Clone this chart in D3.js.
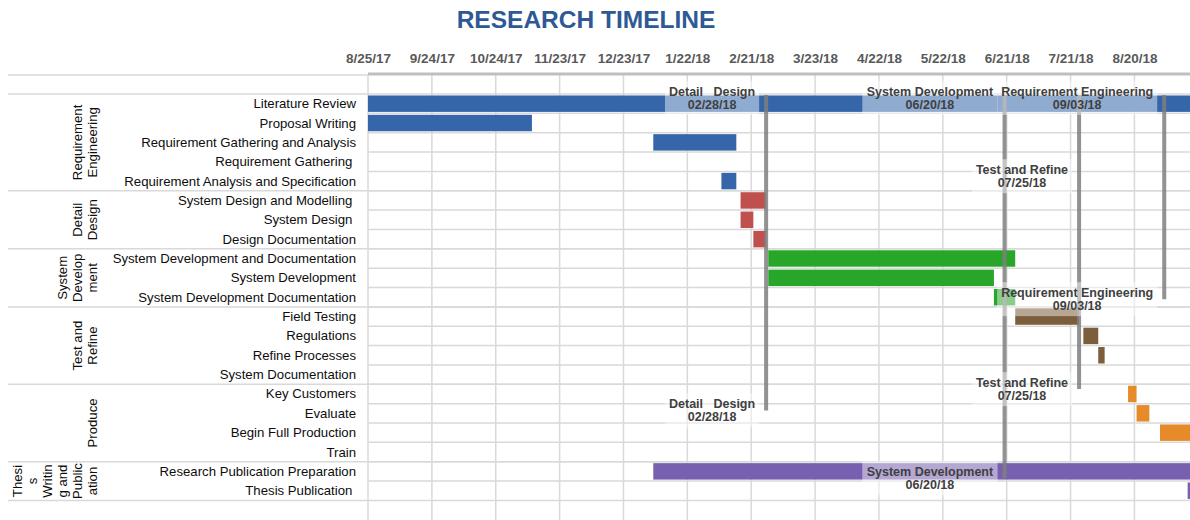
<!DOCTYPE html>
<html>
<head>
<meta charset="utf-8">
<script src="https://cdnjs.cloudflare.com/ajax/libs/d3/7.8.5/d3.min.js"></script>
<style>
body { margin: 0; background: #fff; }
text { font-family: Arial, "Liberation Sans", sans-serif; white-space: pre; }
</style>
</head>
<body>
<script>
// Tasks, top to bottom
var taskNames = ["Literature Review", "Proposal Writing", "Requirement Gathering and Analysis", "Requirement Gathering ",
  "Requirement Analysis and Specification", "System Design and Modelling ", "System Design ", "Design Documentation",
  "System Development and Documentation", "System Development", "System Development Documentation", "Field Testing",
  "Regulations", "Refine Processes", "System Documentation", "Key Customers", "Evaluate", "Begin Full Production",
  "Train", "Research Publication Preparation", "Thesis Publication "];
var taskStart = ["8/25/17", "8/25/17", "1/6/18", null, "2/7/18", "2/16/18", "2/16/18", "2/22/18", "3/1/18", "3/1/18",
  "6/15/18", "6/25/18", "7/27/18", "8/3/18", null, "8/17/18", "8/21/18", "9/1/18", null, "1/6/18", "9/14/18"];
var taskEnd = ["9/30/18", "11/10/17", "2/14/18", null, "2/14/18", "2/28/18", "2/22/18", "2/28/18", "6/25/18", "6/15/18",
  "6/25/18", "7/25/18", "8/3/18", "8/6/18", null, "8/21/18", "8/27/18", "9/30/18", null, "9/30/18", "9/30/18"];
var taskGroup = [0, 0, 0, 0, 0, 1, 1, 1, 2, 2, 2, 3, 3, 3, 3, 4, 4, 4, 4, 5, 5];

// Phase labels (wrapped like the original cells)
var groupLines = [["Requirement", "Engineering"], ["Detail", "Design"], ["System", "Develop", "ment"],
  ["Test and", "Refine"], ["Produce"], ["Thesi", "s", "Writin", "g and", "Public", "ation"]];
var groupColors = ["#3666aa", "#c0504d", "#27a62a", "#7d5e3c", "#e68a2a", "#7860b0"];

var tickLabels = ["8/25/17", "9/24/17", "10/24/17", "11/23/17", "12/23/17", "1/22/18", "2/21/18",
  "3/23/18", "4/22/18", "5/22/18", "6/21/18", "7/21/18", "8/20/18"];

// Milestones
var milestoneNames = ["Detail   Design", "System Development", "Test and Refine", "Requirement Engineering"];
var milestoneDates = ["2/28/18", "6/20/18", "7/25/18", "9/3/18"];
var milestoneDepth = [16.35, 19.85, 15.25, 10.6];    // rows below header where marker ends
var milestoneTopLabel = [0.2, 0.2, 4.25, 0.2];       // rows below header of second label

var parse = d3.timeParse("%m/%d/%y");
var fmtTick = d3.timeFormat("%-m/%-d/%y");
var fmtLabel = d3.timeFormat("%m/%d/%y");

var W = 1190, H = 520;
var svg = d3.select("body").append("svg")
  .attr("width", W)
  .attr("height", H);

var x = d3.scaleTime()
  .domain([parse("8/25/17"), parse("9/30/18")])
  .range([368, 368 + 401 * 2.129]);

var rowY = d3.scaleLinear().domain([0, 21]).range([94, 500.4]);

var y = d3.scaleBand()
  .domain(taskNames)
  .range([94, 500.4])
  .paddingInner(0.15)
  .paddingOuter(0.075);

var tickDates = tickLabels.map(parse);

// Title
svg.append("text")
  .attr("x", 586)
  .attr("y", 28)
  .attr("text-anchor", "middle")
  .attr("font-size", 24.5)
  .attr("font-weight", "bold")
  .attr("fill", "#2e5994")
  .text("RESEARCH TIMELINE");

// Grid
var grid = svg.append("g");
grid.selectAll("line.v")
  .data(tickDates)
  .enter().append("line")
    .attr("class", "v")
    .attr("x1", d => x(d)).attr("x2", d => x(d))
    .attr("y1", 75).attr("y2", H)
    .attr("stroke", "#d9d9d9")
    .attr("stroke-width", 1.5);

grid.selectAll("line.h")
  .data(d3.range(1, 21))
  .enter().append("line")
    .attr("class", "h")
    .attr("x1", 368).attr("x2", W)
    .attr("y1", d => rowY(d)).attr("y2", d => rowY(d))
    .attr("stroke", "#d9d9d9")
    .attr("stroke-width", 1.5);

// group boundaries reach into the label area
var bounds = [0];
taskGroup.forEach((g, i) => { if (i == taskGroup.length - 1 || taskGroup[i + 1] != g) bounds.push(i + 1); });

grid.selectAll("line.g")
  .data(bounds)
  .enter().append("line")
    .attr("class", "g")
    .attr("x1", 8).attr("x2", W)
    .attr("y1", d => rowY(d)).attr("y2", d => rowY(d))
    .attr("stroke", "#d9d9d9")
    .attr("stroke-width", 1.5);

grid.append("line")
  .attr("x1", 8).attr("x2", 368)
  .attr("y1", 75).attr("y2", 75)
  .attr("stroke", "#d9d9d9")
  .attr("stroke-width", 1.5);

grid.append("line")
  .attr("x1", 368).attr("x2", W)
  .attr("y1", 74).attr("y2", 74)
  .attr("stroke", "#bfbfbf")
  .attr("stroke-width", 3);

// Date axis
var xAxis = d3.axisTop(x)
  .tickValues(tickDates)
  .tickFormat(fmtTick)
  .tickSize(0)
  .tickPadding(3);

var ax = svg.append("g")
  .attr("transform", "translate(0, 65.5)")
  .call(xAxis);
ax.select(".domain").remove();
ax.selectAll("text")
  .attr("font-size", 13.5)
  .attr("font-weight", "bold")
  .attr("fill", "#595959")
  .style("font-family", "Arial, 'Liberation Sans', sans-serif");

// Task labels
svg.selectAll("text.task")
  .data(taskNames)
  .enter().append("text")
    .attr("class", "task")
    .attr("x", 356)
    .attr("y", d => y(d) + y.bandwidth() / 2 + 4.5)
    .attr("text-anchor", "end")
    .attr("font-size", 13.2)
    .attr("fill", "#0d0d0d")
    .text(d => d);

// Phase labels, rotated
groupLines.forEach((lines, gi) => {
  var yc = (rowY(bounds[gi]) + rowY(bounds[gi + 1])) / 2;
  var n = lines.length;
  var t = svg.append("text")
    .attr("transform", "translate(92," + yc + ") rotate(-90)")
    .attr("text-anchor", "middle")
    .attr("font-size", 13.2)
    .attr("fill", "#0d0d0d");
  t.selectAll("tspan")
    .data(lines)
    .enter().append("tspan")
      .attr("x", 0)
      .attr("y", (d, i) => (i - (n - 1)) * 15 + 4.5)
      .text(d => d);
});

// Bars
var barIdx = d3.range(taskNames.length).filter(i => taskStart[i] != null);
svg.selectAll("rect.bar")
  .data(barIdx)
  .enter().append("rect")
    .attr("class", "bar")
    .attr("x", i => x(parse(taskStart[i])))
    .attr("y", i => y(taskNames[i]))
    .attr("width", i => x(parse(taskEnd[i])) - x(parse(taskStart[i])))
    .attr("height", y.bandwidth())
    .attr("fill", i => groupColors[taskGroup[i]]);

// Milestone markers
svg.selectAll("line.ms")
  .data(milestoneDates)
  .enter().append("line")
    .attr("class", "ms")
    .attr("x1", d => x(parse(d))).attr("x2", d => x(parse(d)))
    .attr("y1", rowY(0.05))
    .attr("y2", (d, i) => rowY(milestoneDepth[i]))
    .attr("stroke", "#7f7f7f")
    .attr("stroke-opacity", 0.85)
    .attr("stroke-width", 4);

// Milestone labels (one at the marker end, one higher up)
var labels = [];
milestoneNames.forEach((n, i) => {
  labels.push({ i: i, r: milestoneTopLabel[i] });
  labels.push({ i: i, r: milestoneDepth[i] });
});

labels.forEach(l => {
  var lx = x(parse(milestoneDates[l.i]));
  var yc = rowY(l.r);
  var g = svg.append("g");
  var box = g.append("rect")
    .attr("fill", "#fff")
    .attr("fill-opacity", 0.45);
  var t = g.append("text")
    .attr("text-anchor", "middle")
    .attr("font-size", 12.5)
    .attr("font-weight", "bold")
    .attr("fill", "#404040");
  t.append("tspan").attr("x", 0).attr("y", -2).text(milestoneNames[l.i]);
  t.append("tspan").attr("x", 0).attr("y", 11).text(fmtLabel(parse(milestoneDates[l.i])));
  var w = t.node().getBBox().width + 8;
  box.attr("x", -w / 2).attr("y", -17).attr("width", w).attr("height", 34);
  g.attr("transform", "translate(" + (lx - 7 - w / 2) + "," + yc + ")");
});
</script>
</body>
</html>
